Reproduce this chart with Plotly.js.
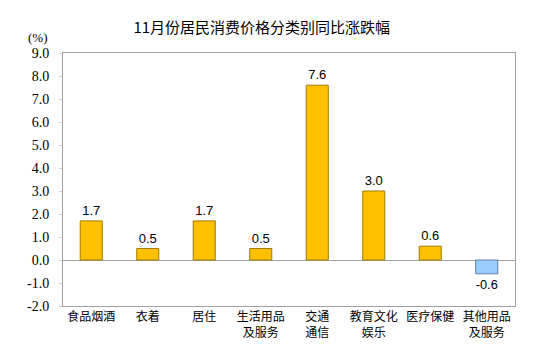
<!DOCTYPE html>
<html>
<head>
<meta charset="utf-8">
<script src="https://cdn.plot.ly/plotly-3.0.1.min.js"></script>
<style>html,body{margin:0;padding:0;background:#fff;}#chart{width:550px;height:360px;}</style>
</head>
<body>
<div id="chart"></div>
<script>
const categories = ["食品烟酒", "衣着", "居住", "生活用品<br>及服务", "交通<br>通信", "教育文化<br>娱乐", "医疗保健", "其他用品<br>及服务"];
const values = [1.7, 0.5, 1.7, 0.5, 7.6, 3.0, 0.6, -0.6];
const valueLabels = ["1.7", "0.5", "1.7", "0.5", "7.6", "3.0", "0.6", "-0.6"];
const yTickVals = [-2, -1, 0, 1, 2, 3, 4, 5, 6, 7, 8, 9];
const yTickText = ["-2.0", "-1.0", "0.0", "1.0", "2.0", "3.0", "4.0", "5.0", "6.0", "7.0", "8.0", "9.0"];

const fillColors = values.map(v => v >= 0 ? "#FFC000" : "#99CCFF");
const lineColors = values.map(v => v >= 0 ? "#A07C00" : "#5B7FA8");

const serif = "Liberation Serif";
const pad = "\u00a0\u00a0";

const trace = {
  type: "bar",
  x: categories,
  y: values,
  text: valueLabels,
  textposition: "outside",
  textfont: {family: "Arial", size: 13, color: "#000"},
  cliponaxis: false,
  width: 0.39,
  marker: {color: fillColors, line: {color: lineColors, width: 1}},
  hoverinfo: "none"
};

const layout = {
  width: 550, height: 360,
  margin: {l: 63, r: 35, t: 53, b: 54},
  paper_bgcolor: "#fff", plot_bgcolor: "#fff",
  showlegend: false,
  title: {
    text: "11月份居民消费价格分类别同比涨跌幅",
    font: {family: "Noto Sans CJK SC", size: 15, color: "#000"},
    x: 0.476, xanchor: "center", y: 0.922, yanchor: "middle"
  },
  xaxis: {
    type: "category",
    showline: true, mirror: true, linecolor: "#A0A0A0", linewidth: 1,
    ticks: "", showgrid: false,
    tickfont: {family: "Noto Sans CJK SC", size: 12, color: "#000"},
    fixedrange: true
  },
  yaxis: {
    range: [-2, 9],
    tickmode: "array",
    tickvals: yTickVals, ticktext: yTickText.map(t => t + pad),
    showline: true, mirror: true, linecolor: "#A0A0A0", linewidth: 1,
    ticks: "outside", ticklen: 3, tickcolor: "#D0D0D0",
    showgrid: false,
    zeroline: true, zerolinecolor: "#A0A0A0", zerolinewidth: 1,
    tickfont: {family: serif, size: 14, color: "#000"},
    fixedrange: true
  },
  annotations: [{
    text: "(%)", xref: "paper", yref: "paper", x: -0.035, y: 1.0, xanchor: "right", yanchor: "bottom",
    xshift: 3, yshift: 6, showarrow: false,
    font: {family: serif, size: 13, color: "#000"}
  }]
};

Plotly.newPlot("chart", [trace], layout, {displayModeBar: false, staticPlot: true});
</script>
</body>
</html>
